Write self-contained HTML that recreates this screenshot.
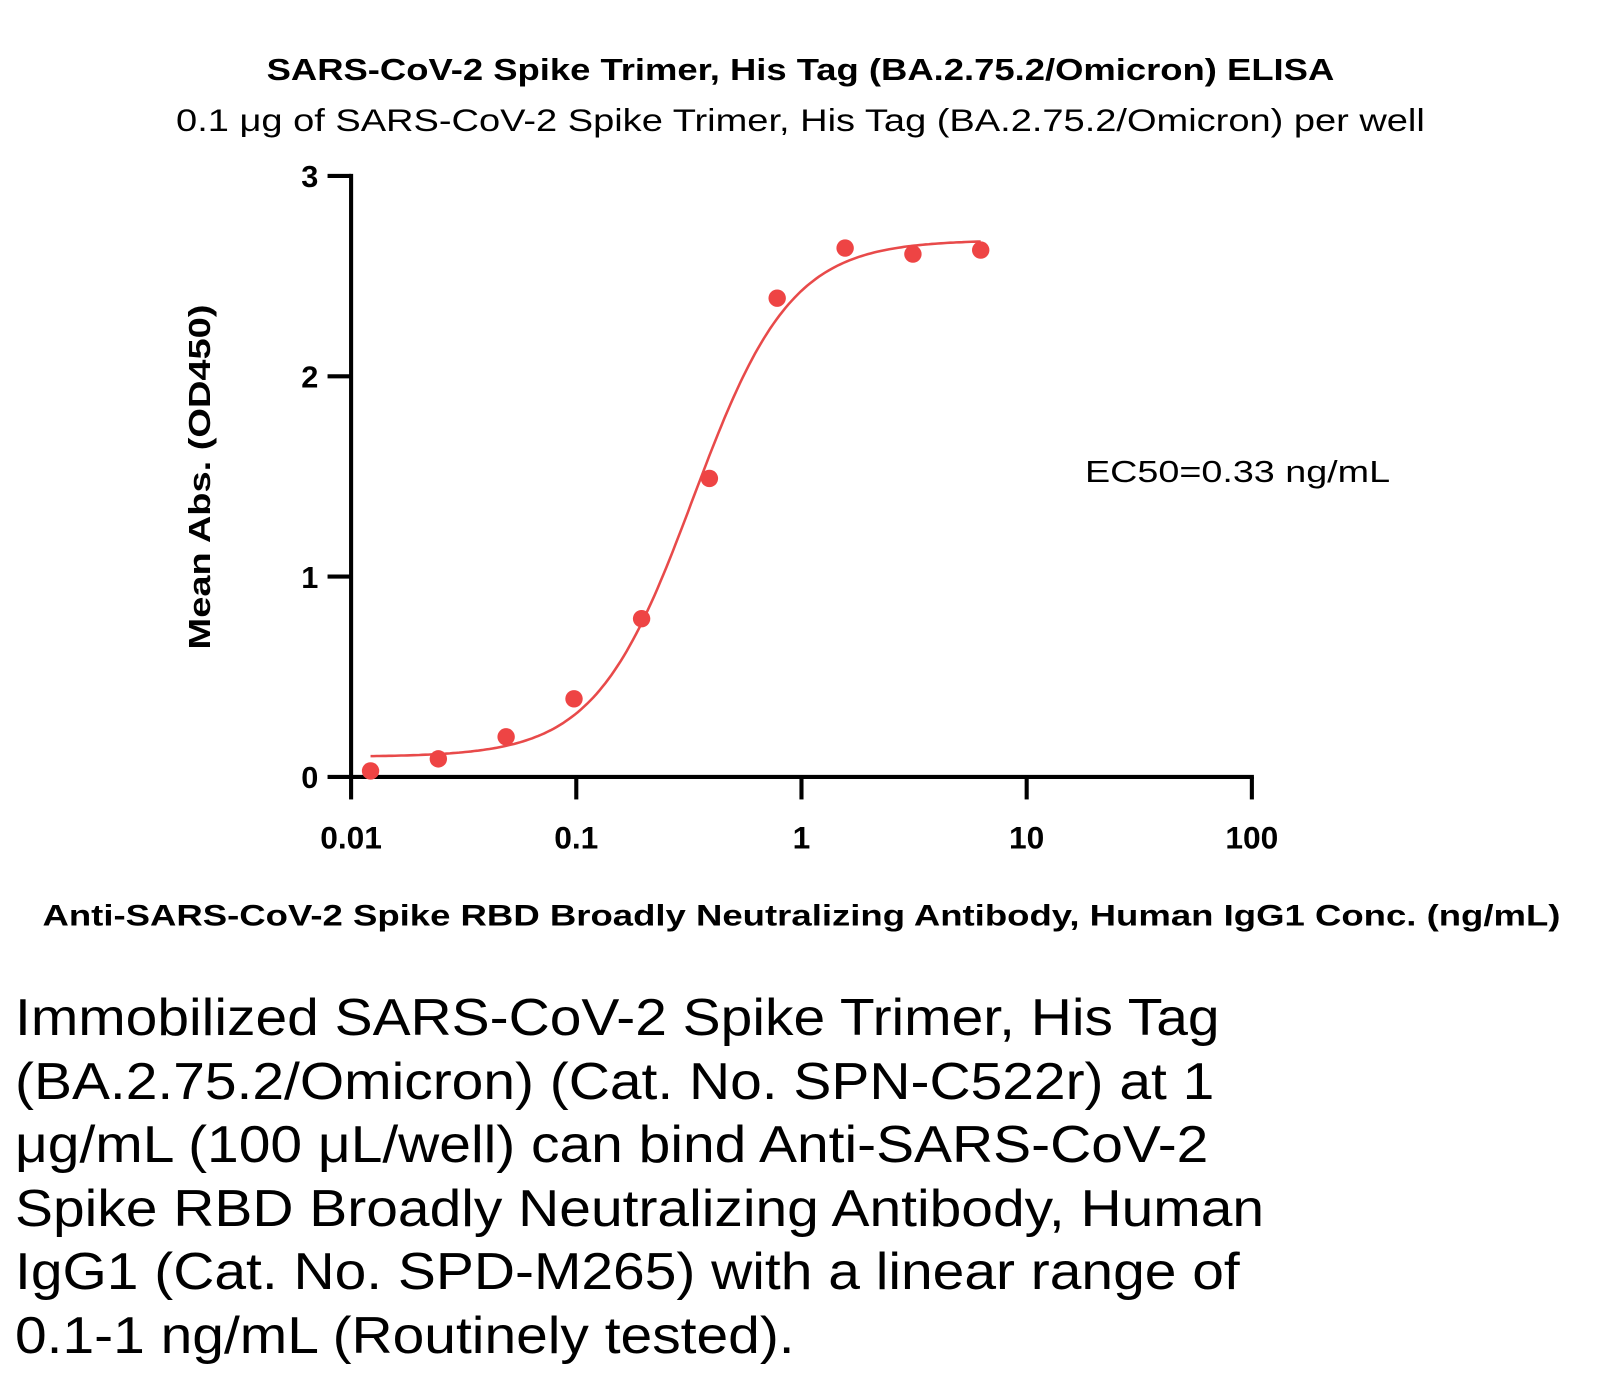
<!DOCTYPE html>
<html><head><meta charset="utf-8"><style>
body{margin:0;background:#fff;width:1602px;height:1377px;overflow:hidden;font-family:"Liberation Sans",sans-serif}
#para{position:absolute;left:15px;top:987px;font-size:52px;line-height:63.5px;color:#000;width:1300px;white-space:nowrap;transform:scaleX(1.095);transform-origin:0 0}
</style></head><body>
<svg id="chart" width="1602" height="960" style="position:absolute;left:0;top:0" font-family="Liberation Sans, sans-serif">
<g transform="scale(1.0236)">
<text x="782" y="78" text-anchor="middle" font-size="30" font-weight="bold" textLength="1043" lengthAdjust="spacingAndGlyphs">SARS-CoV-2 Spike Trimer, His Tag (BA.2.75.2/Omicron) ELISA</text>
<text x="782" y="128" text-anchor="middle" font-size="31" textLength="1220" lengthAdjust="spacingAndGlyphs">0.1 μg of SARS-CoV-2 Spike Trimer, His Tag (BA.2.75.2/Omicron) per well</text>
<text transform="translate(205,466) rotate(-90)" text-anchor="middle" font-size="30" font-weight="bold" textLength="337" lengthAdjust="spacingAndGlyphs">Mean Abs. (OD450)</text>
<text x="783" y="904" text-anchor="middle" font-size="29" font-weight="bold" textLength="1483" lengthAdjust="spacingAndGlyphs">Anti-SARS-CoV-2 Spike RBD Broadly Neutralizing Antibody, Human IgG1 Conc. (ng/mL)</text>
<text x="1060" y="471" font-size="30" textLength="298" lengthAdjust="spacingAndGlyphs">EC50=0.33 ng/mL</text>
<g id="axes"></g><g id="marks"></g>
</g>
</svg>
<div id="para">Immobilized SARS-CoV-2 Spike Trimer, His Tag<br>(BA.2.75.2/Omicron) (Cat. No. SPN-C522r) at 1<br>μg/mL (100 μL/well) can bind Anti-SARS-CoV-2<br>Spike RBD Broadly Neutralizing Antibody, Human<br>IgG1 (Cat. No. SPD-M265) with a linear range of<br>0.1-1 ng/mL (Routinely tested).</div>
<script>
const concs=[0.0122,0.0244,0.0488,0.0977,0.195,0.39,0.78,1.5625,3.125,6.25];
const od=[0.03,0.09,0.20,0.39,0.79,1.49,2.39,2.64,2.61,2.63];
const xTicks=[0.01,0.1,1,10,100];
const xTickLabels=["0.01","0.1","1","10","100"];
const yTicks=[0,1,2,3];
const fitBottom=0.1, fitTop=2.68, fitEC50=0.33, fitHill=2.0;
const NS="http://www.w3.org/2000/svg";
const X=v=>343+(Math.log10(v)+2)*220;
const Y=v=>759-v*195.7;
function mk(t,a,p){const e=document.createElementNS(NS,t);for(const k in a)e.setAttribute(k,a[k]);p.appendChild(e);return e;}
const ax=document.getElementById('axes'),mg=document.getElementById('marks');
let l=mk('line',{x1:343,y1:Y(3)-2,x2:343,y2:761,stroke:'#000','stroke-width':4},ax);


l=mk('line',{x1:341,y1:759,x2:1225,y2:759,stroke:'#000','stroke-width':4},ax);


yTicks.forEach(v=>{
 const t=mk('line',{x1:320,y1:Y(v),x2:343,y2:Y(v),stroke:'#000','stroke-width':4},ax);
 
 
 const s=mk('text',{x:311,y:Y(v)+11,'text-anchor':'end','font-size':30,'font-weight':'bold'},ax);s.textContent=v;
 
 
});
xTicks.forEach((v,i)=>{
 const t=mk('line',{x1:X(v),y1:759,x2:X(v),y2:781,stroke:'#000','stroke-width':4},ax);
 
 
 const s=mk('text',{x:X(v),y:829,'text-anchor':'middle','font-size':31,'font-weight':'bold'},ax);s.textContent=xTickLabels[i];
 
 
});
const f=c=>fitBottom+(fitTop-fitBottom)/(1+Math.pow(fitEC50/c,fitHill));
let d='';const lo=Math.log10(concs[0]),hi=Math.log10(concs[concs.length-1]);
for(let i=0;i<=200;i++){const c=Math.pow(10,lo+(hi-lo)*i/200);d+=(i?'L':'M')+X(c).toFixed(1)+','+Y(f(c)).toFixed(1);}
const p=mk('path',{d:d,fill:'none',stroke:'#e84a4a','stroke-width':2.5},mg);


concs.forEach((c,i)=>{
 const e=mk('circle',{cx:X(c),cy:Y(od[i]),r:8.5,fill:'#ee4444'},mg);
 
 
});
</script>
</body></html>
